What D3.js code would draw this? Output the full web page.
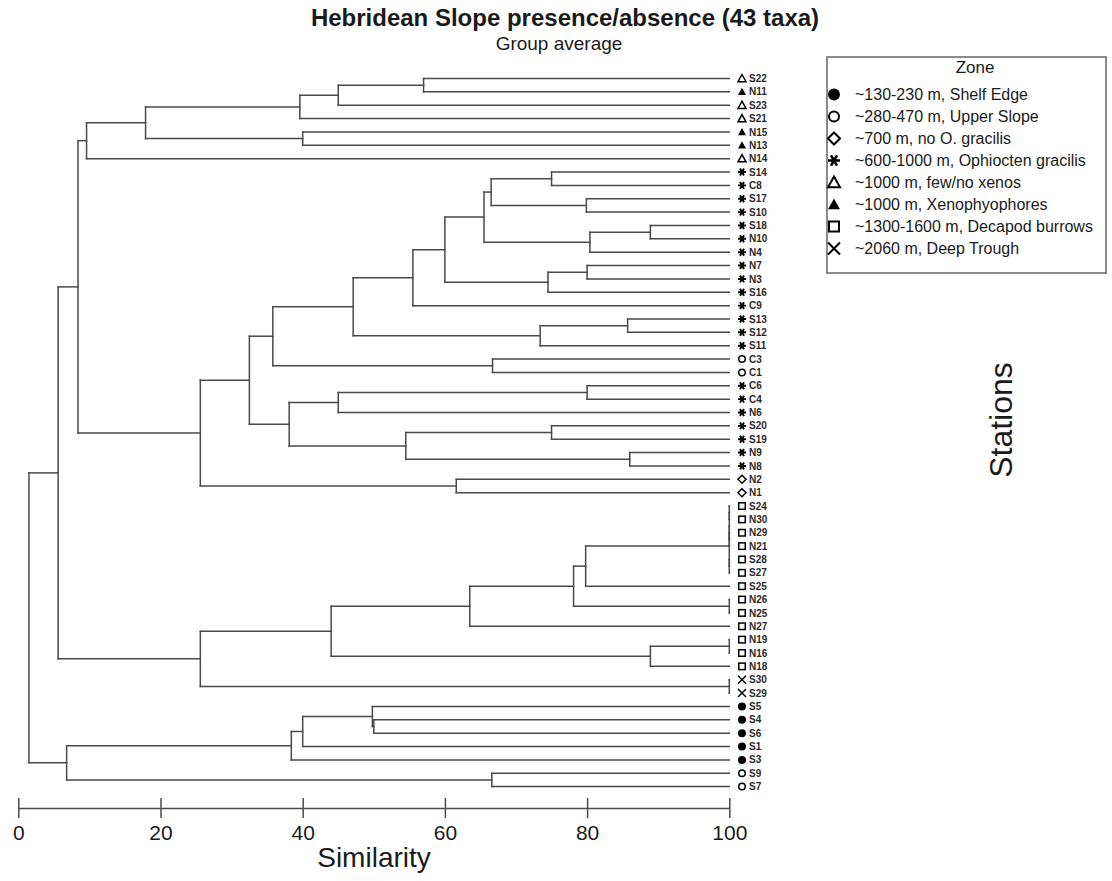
<!DOCTYPE html>
<html><head><meta charset="utf-8">
<script src="https://cdn.jsdelivr.net/npm/d3@7"></script>
<style>body{margin:0;background:#fff} svg{display:block;font-family:"Liberation Sans",Arial,sans-serif}</style>
</head><body>
<svg id="chart" width="1112" height="881"></svg>
<script>
// ---------- DATA ----------
const stations = ["S22","N11","S23","S21","N15","N13","N14",
  "S14","C8","S17","S10","S18","N10","N4","N7","N3","S16","C9","S13","S12","S11",
  "C3","C1","C6","C4","N6","S20","S19","N9","N8","N2","N1",
  "S24","N30","N29","N21","S28","S27","S25","N26","N25","N27","N19","N16","N18",
  "S30","S29","S5","S4","S6","S1","S3","S9","S7"];
// zone index per station (same order as stations)
const stationZone = [4,5,4,4,5,5,4,
  3,3,3,3,3,3,3,3,3,3,3,3,3,3,
  1,1,3,3,3,3,3,3,3,2,2,
  6,6,6,6,6,6,6,6,6,6,6,6,6,
  7,7,0,0,0,0,0,1,1];
const zones = ["~130-230 m, Shelf Edge","~280-470 m, Upper Slope","~700 m, no O. gracilis",
  "~600-1000 m, Ophiocten gracilis","~1000 m, few/no xenos","~1000 m, Xenophyophores",
  "~1300-1600 m, Decapod burrows","~2060 m, Deep Trough"];
const zoneSymbols = ["dotFilled","circle","diamond","asterisk","triangle","triangleFilled","square","cross"];
// joins: [id, members, similarity]
const joins = [
  ["a1",["S22","N11"],57], ["a2",["a1","S23"],45], ["a3",["a2","S21"],39.6],
  ["a4",["N15","N13"],40], ["a5",["a3","a4"],17.9], ["A",["a5","N14"],9.6],
  ["b1",["S14","C8"],75], ["b2",["S17","S10"],79.9], ["b3",["b1","b2"],66.5],
  ["b4",["S18","N10"],88.9], ["b5",["b4","N4"],80.4], ["b6",["b3","b5"],65.5],
  ["b7",["N7","N3"],80], ["b8",["b7","S16"],74.5], ["b9",["b6","b8"],60],
  ["b10",["b9","C9"],55.5], ["b11",["S13","S12"],85.7], ["b12",["b11","S11"],73.4],
  ["b13",["b10","b12"],47.1], ["c1",["C3","C1"],66.7], ["b14",["b13","c1"],35.8],
  ["d1",["C6","C4"],80], ["d2",["d1","N6"],45], ["d3",["S20","S19"],75],
  ["d4",["N9","N8"],86], ["d5",["d3","d4"],54.5], ["d6",["d2","d5"],38.1],
  ["bd",["b14","d6"],32.5], ["e1",["N2","N1"],61.6], ["bde",["bd","e1"],25.6],
  ["top",["A","bde"],8.4],
  ["f1a1",["S24","N30"],100], ["f1a2",["N29","N21"],100], ["f1a",["f1a1","f1a2"],100],
  ["f1b",["S28","S27"],100], ["f1",["f1a","f1b"],100], ["f2",["f1","S25"],79.8],
  ["f3",["N26","N25"],100], ["f4",["f2","f3"],78.1], ["f5",["f4","N27"],63.5],
  ["f6",["N19","N16"],100], ["f7",["f6","N18"],88.9], ["f8",["f5","f7"],44],
  ["f9",["S30","S29"],100], ["F",["f8","f9"],25.6], ["TF",["top","F"],5.6],
  ["g1",["S4","S6"],50], ["g2",["S5","g1"],49.8], ["g3",["g2","S1"],40],
  ["g4",["g3","S3"],38.4], ["g5",["S9","S7"],66.6], ["G",["g4","g5"],6.8],
  ["root",["TF","G"],1.5]
];
const axisTicks = [0,20,40,60,80,100];

// ---------- BUILD TREE ----------
const nodes = new Map();
stations.forEach((s,i)=>nodes.set(s,{name:s,sim:100,zone:stationZone[i]}));
joins.forEach(([id,members,sim])=>nodes.set(id,{name:id,sim,children:members.map(m=>nodes.get(m))}));
const root = d3.hierarchy(nodes.get("root"));

const svg = d3.select("#chart");
const x = d3.scaleLinear().domain([0,100]).range([18.3,729.3]);
const y = d3.scalePoint().domain(stations).range([78.5,786.6]);

root.eachAfter(n=>{
  if(!n.children) n.yPos = y(n.data.name);
  else n.yPos = (n.children[0].yPos + n.children[n.children.length-1].yPos)/2;
});

const LINE = "#4a4a4a";
const gTree = svg.append("g").attr("fill","none").attr("stroke",LINE).attr("stroke-width",1.5).attr("stroke-linecap","square");
root.each(n=>{
  if(!n.children) return;
  const xn = x(n.data.sim);
  const ys = n.children.map(c=>c.yPos);
  gTree.append("line").attr("x1",xn).attr("x2",xn).attr("y1",d3.min(ys)).attr("y2",d3.max(ys));
  n.children.forEach(c=>{
    gTree.append("line").attr("x1",xn).attr("x2",x(c.data.sim)).attr("y1",c.yPos).attr("y2",c.yPos);
  });
});

// ---------- SYMBOLS ----------
function drawSymbol(g,type,cx,cy,s,sw){
  const r=s/2;
  const gg=g.append("g").attr("transform",`translate(${cx},${cy})`);
  switch(type){
    case "dotFilled": gg.append("circle").attr("r",r).attr("fill","#000"); break;
    case "circle": gg.append("circle").attr("r",r-sw/2).attr("fill","#fff").attr("stroke","#000").attr("stroke-width",sw); break;
    case "diamond": gg.append("path").attr("d",`M0,${-r}L${r},0L0,${r}L${-r},0Z`).attr("fill","#fff").attr("stroke","#000").attr("stroke-width",sw); break;
    case "asterisk": gg.append("path").attr("d",`M${-r},0H${r}M${-r*0.5},${-r*0.87}L${r*0.5},${r*0.87}M${-r*0.5},${r*0.87}L${r*0.5},${-r*0.87}`).attr("stroke","#000").attr("stroke-width",sw*1.3); break;
    case "triangle": gg.append("path").attr("d",`M0,${-r}L${r},${r*0.8}L${-r},${r*0.8}Z`).attr("fill","#fff").attr("stroke","#000").attr("stroke-width",sw); break;
    case "triangleFilled": gg.append("path").attr("d",`M0,${-r}L${r},${r*0.8}L${-r},${r*0.8}Z`).attr("fill","#000"); break;
    case "square": gg.append("rect").attr("x",-r+sw/2).attr("y",-r+sw/2).attr("width",s-sw).attr("height",s-sw).attr("fill","#fff").attr("stroke","#000").attr("stroke-width",sw); break;
    case "cross": gg.append("path").attr("d",`M${-r},${-r}L${r},${r}M${-r},${r}L${r},${-r}`).attr("stroke","#000").attr("stroke-width",sw); break;
  }
}

// leaf markers + labels
const gLeaf = svg.append("g");
root.leaves().forEach(l=>{
  drawSymbol(gLeaf, zoneSymbols[l.data.zone], 742, l.yPos, 8, 1.5);
  gLeaf.append("text").attr("x",749).attr("y",l.yPos).attr("dy","0.36em")
    .attr("font-size",10).attr("font-weight","bold").attr("fill","#2a2a2a").text(l.data.name);
});

// ---------- AXIS ----------
const axis = d3.axisBottom(x).tickValues(axisTicks).tickSizeInner(10).tickSizeOuter(0).tickFormat(d3.format("d"));
const gAx = svg.append("g").attr("transform","translate(0,808)").call(axis);
gAx.select(".domain").attr("stroke",LINE).attr("stroke-width",1.5);
gAx.selectAll(".tick line").attr("stroke",LINE).attr("stroke-width",1.5).attr("y1",-10).attr("y2",10);
gAx.selectAll(".tick text").attr("y",32).attr("dy",0).attr("font-size",21).attr("fill","#1a1a1a")
  .attr("font-family","'Liberation Sans',Arial,sans-serif");

svg.append("text").attr("x",374).attr("y",867).attr("text-anchor","middle").attr("font-size",28).attr("fill","#1a1a1a").text("Similarity");
svg.append("text").attr("transform","translate(1012,420) rotate(-90)").attr("text-anchor","middle").attr("font-size",32).attr("fill","#1a1a1a").text("Stations");

// ---------- TITLES ----------
svg.append("text").attr("x",565).attr("y",26).attr("text-anchor","middle").attr("font-size",24).attr("font-weight","bold").attr("fill","#1a1a1a")
  .text("Hebridean Slope presence/absence (43 taxa)");
svg.append("text").attr("x",559).attr("y",50).attr("text-anchor","middle").attr("font-size",19).attr("fill","#1a1a1a").text("Group average");

// ---------- LEGEND ----------
const gL = svg.append("g");
gL.append("rect").attr("x",827).attr("y",57).attr("width",279).attr("height",216).attr("fill","#fff").attr("stroke","#666").attr("stroke-width",1.5);
gL.append("text").attr("x",975).attr("y",73).attr("text-anchor","middle").attr("font-size",17).attr("fill","#1a1a1a").text("Zone");
zones.forEach((z,i)=>{
  const cy = 94.5 + i*22;
  drawSymbol(gL, zoneSymbols[i], 834, cy, 12, 2);
  gL.append("text").attr("x",855).attr("y",cy).attr("dy","0.36em").attr("font-size",16).attr("fill","#1a1a1a").text(z);
});
</script>
</body></html>
